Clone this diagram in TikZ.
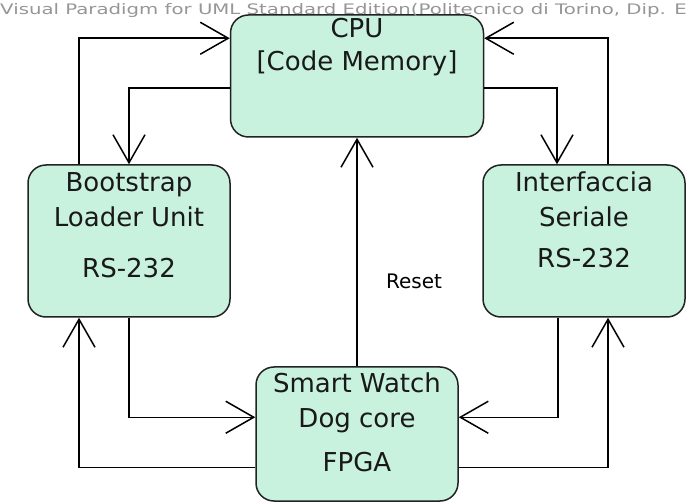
\documentclass[tikz,border=0pt]{standalone}
\usepackage{fontspec}
\usepackage{graphicx}
\setmainfont{DejaVu Sans}
\usetikzlibrary{arrows.meta}

\definecolor{unitfill}{RGB}{200,242,222}
\definecolor{unitline}{RGB}{34,34,34}
\definecolor{wmark}{RGB}{150,150,150}

\tikzset{
	unit/.style={draw=unitline, fill=unitfill, line width=1.5pt, rounded corners=18pt,
		inner sep=0pt, minimum width=202pt, minimum height=152pt},
	txt/.style={anchor=base, inner sep=0pt, text=black!90, font=\fontsize{26}{30}\selectfont},
	flow/.style={draw=black, line width=1.5pt, -{Straight Barb[length=28pt, width=32pt]}},
}

\begin{document}
\begin{tikzpicture}[x=1pt, y=-1pt]
	\useasboundingbox (0,0) rectangle (696,502);

	% the four blocks
	\node[unit, minimum width=253pt, minimum height=122pt] (cpu) at (357,76) {};
	\node[unit] (boot) at (129,241) {};
	\node[unit] (seri) at (584,241) {};
	\node[unit, minimum height=134pt] (wdog) at (357,434) {};

	% labels inside the blocks
	\node[txt] (cpu1) at ([yshift=-23pt]cpu.north) {CPU};
	\node[txt] (cpu2) at ([yshift=-56pt]cpu.north) {[Code Memory]};
	\foreach \t/\dy [count=\k] in {Bootstrap/27, Loader Unit/62, RS-232/113}
		\node[txt] (boot\k) at ([yshift=-\dy pt]boot.north) {\t};
	\foreach \t/\dy [count=\k] in {Interfaccia/27, Seriale/62, RS-232/103}
		\node[txt] (seri\k) at ([yshift=-\dy pt]seri.north) {\t};
	\foreach \t/\dy [count=\k] in {Smart Watch/26, Dog core/61, FPGA/105}
		\node[txt] (wdog\k) at ([yshift=-\dy pt]wdog.north) {\t};

	% CPU <-> serial units
	\draw[flow] ([xshift=-50pt]boot.north) |- ([yshift=-24pt]cpu.north west);
	\draw[flow] ([yshift=-74pt]cpu.north west) -| (boot.north);
	\draw[flow] ([xshift=24pt]seri.north) |- ([yshift=-24pt]cpu.north east);
	\draw[flow] ([yshift=-74pt]cpu.north east) -| ([xshift=-27pt]seri.north);

	% watchdog reset line
	\draw[flow] (wdog.north) -- (wdog.north |- cpu.south)
		node[pos=0.37, anchor=west, xshift=25pt, font=\fontsize{20}{24}\selectfont] (rst) {Reset};

	% serial units <-> watchdog
	\draw[flow] (boot.south) |- ([yshift=-51pt]wdog.north west);
	\draw[flow] ([yshift=-101pt]wdog.north west) -| ([xshift=-50pt]boot.south);
	\draw[flow] ([xshift=-26pt]seri.south) |- ([yshift=-51pt]wdog.north east);
	\draw[flow] ([yshift=-101pt]wdog.north east) -| ([xshift=24pt]seri.south);

	% editor watermark
	\node[anchor=base west, inner sep=0pt, text=wmark, font=\fontsize{14.5}{15}\selectfont] (mark) at (0,15)
		{\scalebox{1.36}[1]{Visual Paradigm for UML Standard Edition(Politecnico di Torino, Dip. E}};
\end{tikzpicture}
\end{document}
